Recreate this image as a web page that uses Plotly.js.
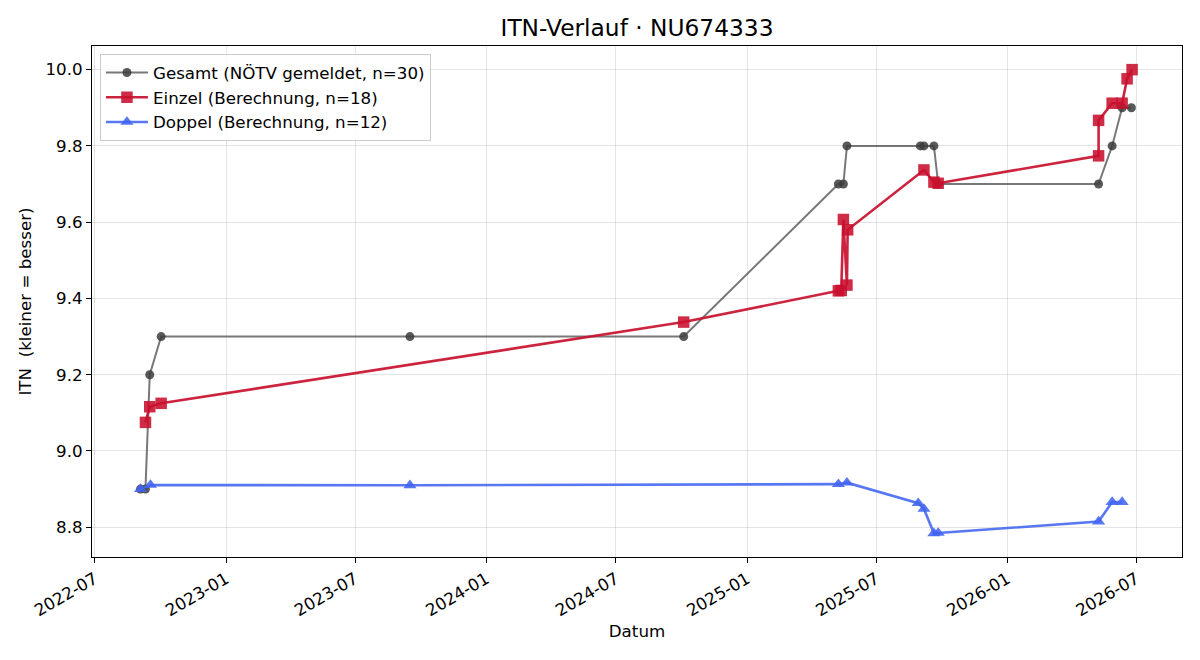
<!DOCTYPE html>
<html>
<head>
<meta charset="utf-8">
<script src="https://cdn.plot.ly/plotly-3.0.1.min.js"></script>
<style>html,body{margin:0;padding:0;background:#fff;}#chart{width:1200px;height:660px;}</style>
</head>
<body>
<div id="chart"></div>
<script>
// Gesamt (NÖTV gemeldet)
const gesamtDates = ['2022-09-03','2022-09-10','2022-09-16','2022-10-02','2023-09-16','2024-10-04',
  '2025-05-09','2025-05-16','2025-05-21','2025-09-01','2025-09-06','2025-09-20','2025-09-26',
  '2026-05-09','2026-05-28','2026-06-11','2026-06-24'];
const gesamtValues = [8.9, 8.9, 9.2, 9.3, 9.3, 9.3,
  9.7, 9.7, 9.8, 9.8, 9.8, 9.8, 9.7,
  9.7, 9.8, 9.9, 9.9];

// Einzel (Berechnung)
const einzelDates = ['2022-09-10','2022-09-16','2022-10-02','2024-10-04',
  '2025-05-09','2025-05-13','2025-05-16','2025-05-21','2025-05-22',
  '2025-09-06','2025-09-20','2025-09-26',
  '2026-05-09','2026-05-09','2026-05-28','2026-06-11','2026-06-18','2026-06-25'];
const einzelValues = [9.075, 9.116, 9.125, 9.338,
  9.420, 9.421, 9.607, 9.435, 9.580,
  9.737, 9.705, 9.702,
  9.774, 9.867, 9.912, 9.912, 9.976, 10.0];

// Doppel (Berechnung)
const doppelDates = ['2022-09-03','2022-09-17','2023-09-16','2025-05-09','2025-05-21',
  '2025-08-29','2025-09-06','2025-09-20','2025-09-26','2026-05-09','2026-05-28','2026-06-11'];
const doppelValues = [8.900, 8.911, 8.910, 8.913, 8.917,
  8.863, 8.848, 8.784, 8.785, 8.815, 8.866, 8.866];

const seriesNames = ['Gesamt (NÖTV gemeldet, n=30)', 'Einzel (Berechnung, n=18)', 'Doppel (Berechnung, n=12)'];
const titleText = 'ITN-Verlauf · NU674333';
const xTitle = 'Datum';
const yTitle = 'ITN\u00a0 (kleiner = besser)';

const FONT = 'DejaVu Sans, Liberation Sans, sans-serif';
const FS = 16.7;

const traces = [
  {
    x: gesamtDates, y: gesamtValues, name: seriesNames[0], legendgroup: 'g', type: 'scatter', mode: 'lines+markers',
    line: {color: 'rgba(68,68,68,0.72)', width: 2},
    marker: {symbol: 'circle', size: 9, color: 'rgba(60,60,60,0.85)'}
  },
  {
    x: einzelDates, y: einzelValues, name: seriesNames[1], legendgroup: 'e', type: 'scatter', mode: 'lines+markers',
    line: {color: 'rgba(200,16,46,0.92)', width: 2.6},
    marker: {symbol: 'square', size: 11.5, color: 'rgba(200,16,46,0.88)'}
  },
  {
    x: doppelDates, y: doppelValues, name: seriesNames[2], legendgroup: 'd', type: 'scatter', mode: 'lines+markers',
    line: {color: 'rgba(65,100,240,0.88)', width: 2.6},
    marker: {symbol: 'triangle-up', size: 11.5, color: 'rgba(65,100,240,0.88)'}
  }
];

const layout = {
  width: 1200, height: 660,
  margin: {l: 92, r: 18, t: 46, b: 103},
  paper_bgcolor: '#fff', plot_bgcolor: '#fff',
  font: {family: FONT, size: FS, color: '#000'},
  title: {text: titleText, font: {family: FONT, size: 23.3, color: '#000'},
          x: 0.5, xref: 'paper', xanchor: 'center', y: 1 - 28/660, yref: 'container', yanchor: 'middle'},
  xaxis: {
    type: 'date', range: ['2022-06-27', '2026-09-03'],
    tick0: '2022-07-01', dtick: 'M6', tickformat: '%Y-%m', tickangle: -30,
    ticks: 'outside', ticklen: 5, tickwidth: 1, tickcolor: '#000',
    showline: true, linecolor: '#000', linewidth: 1, mirror: true,
    showgrid: true, gridcolor: 'rgba(0,0,0,0.1)', gridwidth: 1, zeroline: false,
    tickfont: {family: FONT, size: FS, color: '#000'},
    title: {text: xTitle, font: {family: FONT, size: FS, color: '#000'}, standoff: 6}
  },
  yaxis: {
    range: [8.722, 10.062], tick0: 8.8, dtick: 0.2, tickformat: '.1f',
    ticks: 'outside', ticklen: 5, tickwidth: 1, tickcolor: '#000',
    showline: true, linecolor: '#000', linewidth: 1, mirror: true,
    showgrid: true, gridcolor: 'rgba(0,0,0,0.1)', gridwidth: 1, zeroline: false,
    tickfont: {family: FONT, size: FS, color: '#000'},
    title: {text: yTitle, font: {family: FONT, size: FS, color: '#000'}, standoff: 9}
  },
  legend: {
    x: 0.0073, y: 0.984, xanchor: 'left', yanchor: 'top',
    bgcolor: 'rgba(255,255,255,0.8)', bordercolor: '#cccccc', borderwidth: 1,
    font: {family: FONT, size: FS, color: '#000'}, tracegroupgap: 0, itemwidth: 42
  },
  showlegend: true
};

Plotly.newPlot('chart', traces, layout, {displayModeBar: false, staticPlot: true});
</script>
</body>
</html>
